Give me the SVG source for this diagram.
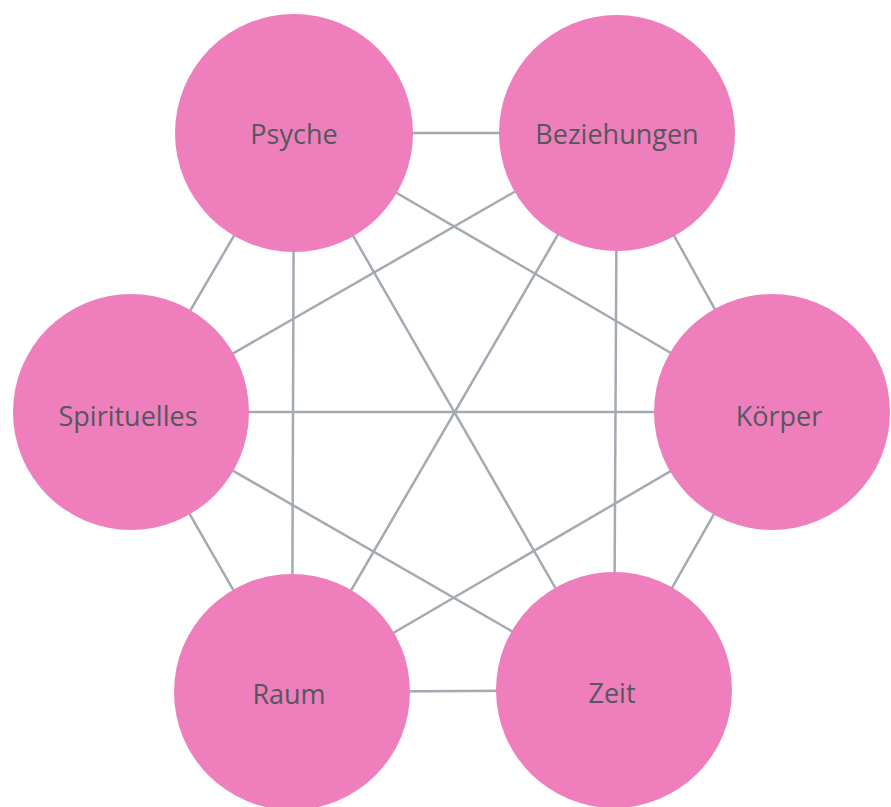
<svg xmlns="http://www.w3.org/2000/svg" width="891" height="807" viewBox="0 0 891 807">
<style>
.edge{stroke:#a4aab2;stroke-width:2.5;fill:none}
.node circle{fill:#ee7fbc}
.node text{font-family:"Open Sans","DejaVu Sans",sans-serif;font-size:27px;fill:#55575c;text-anchor:middle;dominant-baseline:central}
</style>
<rect width="891" height="807" fill="#ffffff"/>
<g id="connectors">
<line class="edge" x1="294" y1="133" x2="617" y2="133"/>
<line class="edge" x1="294" y1="133" x2="131" y2="412"/>
<line class="edge" x1="294" y1="133" x2="772" y2="412"/>
<line class="edge" x1="294" y1="133" x2="292" y2="692"/>
<line class="edge" x1="294" y1="133" x2="614" y2="690"/>
<line class="edge" x1="617" y1="133" x2="131" y2="412"/>
<line class="edge" x1="617" y1="133" x2="772" y2="412"/>
<line class="edge" x1="617" y1="133" x2="292" y2="692"/>
<line class="edge" x1="617" y1="133" x2="614" y2="690"/>
<line class="edge" x1="131" y1="412" x2="772" y2="412"/>
<line class="edge" x1="131" y1="412" x2="292" y2="692"/>
<line class="edge" x1="131" y1="412" x2="614" y2="690"/>
<line class="edge" x1="772" y1="412" x2="292" y2="692"/>
<line class="edge" x1="772" y1="412" x2="614" y2="690"/>
<line class="edge" x1="292" y1="692" x2="614" y2="690"/>
</g>
<g id="psyche" class="node"><circle cx="294" cy="133" r="119"/><text x="294" y="133">Psyche</text></g>
<g id="beziehungen" class="node"><circle cx="617" cy="133" r="118"/><text x="617" y="133">Beziehungen</text></g>
<g id="spirituelles" class="node"><circle cx="131" cy="412" r="118"/><text x="128" y="415">Spirituelles</text></g>
<g id="koerper" class="node"><circle cx="772" cy="412" r="118"/><text x="779" y="415">Körper</text></g>
<g id="raum" class="node"><circle cx="292" cy="692" r="118"/><text x="289" y="693">Raum</text></g>
<g id="zeit" class="node"><circle cx="614" cy="690" r="118"/><text x="612" y="692">Zeit</text></g>
</svg>
